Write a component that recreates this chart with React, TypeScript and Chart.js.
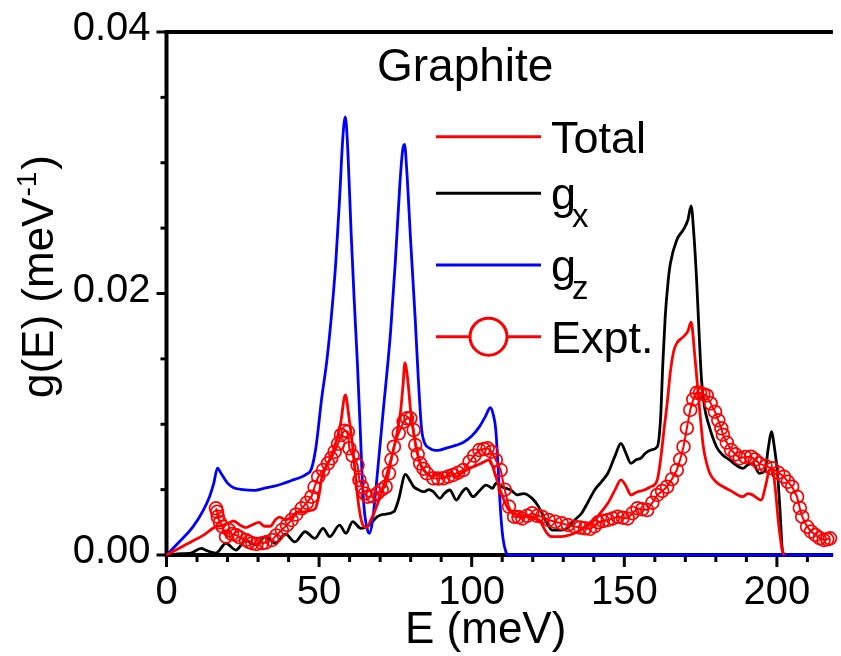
import React, { useEffect, useRef } from 'react';
import { Chart, registerables } from 'chart.js';

Chart.register(...registerables);

const FONT = '"Liberation Sans", Arial, Helvetica, sans-serif';

// ---- data (E in meV, g in meV^-1) ----
const gzE = [0, 4, 8.7, 12, 14.1, 15.5, 16.7, 18, 20, 22, 25, 29, 32, 35, 38, 41, 44, 46, 47.5, 49, 50.8, 52.5, 54, 55.5, 56.7, 57.8, 58.6, 59.4, 60.5, 61.5, 62.6, 63.5, 64.2, 65, 66, 66.5, 67.5, 69, 71, 73.4, 75, 76.5, 77.4, 78, 78.7, 80, 81.5, 82.5, 83.6, 84.7, 86, 88, 89.6, 92, 95, 97.2, 100, 102.5, 104.5, 106.1, 107, 107.9, 108.7, 109.5, 110.3, 111.2, 112, 218.5];
const gzG = [0, 0.00095, 0.00217, 0.0034, 0.00446, 0.0055, 0.00665, 0.0062, 0.0055, 0.00515, 0.005, 0.00495, 0.0051, 0.00525, 0.00545, 0.0057, 0.00595, 0.0062, 0.0066, 0.0083, 0.0119, 0.0148, 0.0182, 0.0225, 0.0272, 0.032, 0.0335, 0.031, 0.0246, 0.0195, 0.0144, 0.0095, 0.0055, 0.003, 0.0018, 0.00166, 0.0026, 0.006, 0.011, 0.017, 0.0225, 0.0285, 0.031, 0.0314, 0.0295, 0.024, 0.018, 0.0135, 0.0096, 0.0085, 0.0082, 0.008, 0.00803, 0.0082, 0.0084, 0.0086, 0.0091, 0.0098, 0.0106, 0.01127, 0.0108, 0.00956, 0.0065, 0.00319, 0.0012, 0.00025, 0, 0];

const totalE = [0, 4, 8, 12, 16.2, 18, 20, 22, 24, 26, 28, 30.3, 32, 34, 35.7, 37, 39, 41, 43, 45, 47, 48.6, 50, 50.7, 52.5, 55.1, 57, 58.6, 59.8, 61, 62.6, 64, 65.5, 67, 69, 72.3, 74.5, 76.6, 77.5, 78.1, 79, 80, 81, 83.1, 85, 87, 89, 91, 93, 95, 97, 99, 101, 103, 105.8, 106.8, 107.9, 110.1, 112.2, 115, 118.7, 122, 124.7, 126.3, 129, 131.6, 134, 137, 140.3, 142.5, 144.6, 147, 148.9, 150.5, 152.2, 154, 156.5, 158.5, 160.8, 162, 163, 164, 165.1, 166.2, 167.2, 169.4, 170.8, 171.9, 173, 174.3, 175.2, 175.9, 177, 178, 180, 182.4, 185, 188.8, 190.5, 192, 194.8, 196.5, 197.5, 198.5, 199.5, 200.5, 201.8, 202.5];
const totalG = [0, 0.0005, 0.001, 0.0015, 0.00217, 0.00225, 0.0024, 0.0026, 0.0023, 0.0021, 0.0023, 0.0025, 0.0022, 0.0022, 0.0027, 0.0029, 0.0027, 0.0029, 0.0033, 0.0033, 0.0034, 0.0035, 0.0046, 0.00574, 0.0068, 0.0083, 0.01, 0.01224, 0.0105, 0.00828, 0.00446, 0.0025, 0.0021, 0.0027, 0.0038, 0.00625, 0.0082, 0.0108, 0.013, 0.0147, 0.0135, 0.011, 0.0093, 0.007, 0.0063, 0.006, 0.0062, 0.0059, 0.0063, 0.006, 0.0063, 0.0066, 0.0068, 0.007, 0.00727, 0.0068, 0.00599, 0.00446, 0.00344, 0.0031, 0.00293, 0.0027, 0.00166, 0.0014, 0.0014, 0.0015, 0.0017, 0.0021, 0.00268, 0.0033, 0.00395, 0.005, 0.00574, 0.0053, 0.00459, 0.0048, 0.00497, 0.0052, 0.00574, 0.0075, 0.00956, 0.0115, 0.014, 0.0156, 0.0162, 0.0167, 0.0171, 0.0178, 0.0155, 0.0121, 0.0098, 0.00828, 0.007, 0.00625, 0.0056, 0.00522, 0.0049, 0.00446, 0.0047, 0.0046, 0.0042, 0.0055, 0.0065, 0.0066, 0.005, 0.0025, 0.0003, 0];

const gxE = [0, 5, 8, 11.4, 13, 16.2, 19.5, 22.7, 26, 29.2, 32.4, 35.7, 39, 42.1, 45.4, 48.6, 51.3, 53.5, 56.7, 58.8, 61, 63.7, 66.4, 69.1, 71, 74.5, 76, 78.3, 79.5, 81, 82.5, 84.2, 86, 87.4, 89.6, 91, 92.8, 95, 96.5, 98.2, 100.4, 102.5, 104.7, 106.9, 107.9, 110, 112.8, 115, 117, 119.8, 121.9, 124.7, 126.3, 129.3, 131.6, 133.8, 136, 138, 140.3, 142.5, 144.6, 147, 148.9, 150.5, 152.2, 154, 155.4, 157, 158.6, 160.8, 161.9, 162.6, 163.4, 164.3, 165.1, 167.2, 169.4, 170.8, 171.9, 172.8, 173.7, 174.5, 175.3, 176.3, 177.5, 180.2, 182, 184.5, 186.5, 188.8, 190.5, 192.1, 194.2, 196, 197.2, 198.2, 199.2, 200.2, 201, 201.8, 202.5];
const gxG = [0, 0.0001, 0.00015, 0.0005, 0.00035, 0.00015, 0.0009, 0.00038, 0.0011, 0.00077, 0.0014, 0.0009, 0.0016, 0.001, 0.00178, 0.00127, 0.00204, 0.0014, 0.00229, 0.00166, 0.00255, 0.00204, 0.00229, 0.00293, 0.0031, 0.00331, 0.0042, 0.00617, 0.0058, 0.00522, 0.005, 0.00484, 0.005, 0.00484, 0.00433, 0.0047, 0.00497, 0.0042, 0.0047, 0.0051, 0.00446, 0.0049, 0.00535, 0.0051, 0.00548, 0.0052, 0.00497, 0.0046, 0.0047, 0.00433, 0.0037, 0.00242, 0.00191, 0.0019, 0.0021, 0.00268, 0.00319, 0.004, 0.00497, 0.0056, 0.00625, 0.0076, 0.00854, 0.0078, 0.00701, 0.0073, 0.0074, 0.0078, 0.00803, 0.00828, 0.0105, 0.0145, 0.0182, 0.0208, 0.0223, 0.0241, 0.0249, 0.0256, 0.0267, 0.0245, 0.021, 0.017, 0.0134, 0.0113, 0.0101, 0.00828, 0.0077, 0.00727, 0.0069, 0.00663, 0.0069, 0.00701, 0.00625, 0.0064, 0.0082, 0.00943, 0.0082, 0.00625, 0.0035, 0.00038, 0];

const exptE = [16.2, 16.6, 16.8, 17.5, 18.4, 19.5, 20.5, 21.5, 22.7, 24, 26, 27, 28.1, 29.5, 31.3, 32.5, 34.6, 36, 37.8, 39.5, 41, 42.5, 44.3, 46, 47.5, 48.5, 49.7, 51.3, 52.9, 54, 55.1, 56.2, 57.2, 58.3, 59.4, 59.9, 61, 62.6, 63.2, 64, 65, 65.9, 67.5, 69.1, 70.5, 71.8, 72.9, 73.7, 74.5, 76.1, 77.7, 78.8, 79.9, 81, 81.5, 82.3, 83.1, 84.2, 85.3, 87.4, 89, 90.7, 92.3, 93.9, 95.5, 97.2, 99.3, 100.8, 102.5, 104, 105.2, 106.5, 107.9, 109.5, 110.8, 112.2, 113.9, 115.3, 116.6, 118.2, 119.8, 121.5, 123, 125.2, 127.3, 129.5, 131.5, 133.8, 135.5, 137.1, 138.7, 140.3, 141.4, 143, 144.6, 146.2, 147.8, 149.5, 151.1, 152.7, 154.3, 155.9, 157.5, 159.2, 160.8, 162.4, 164, 165.6, 167.2, 168.3, 169.4, 170.5, 171.6, 172.6, 173.7, 174.8, 175.9, 177, 178.3, 179.7, 180.8, 181.8, 182.3, 183.6, 185, 186.4, 187.8, 189.6, 191.5, 192.8, 194.2, 196.3, 198.5, 200.4, 202.3, 203.6, 205, 206.6, 207.5, 208.3, 209.9, 211.2, 212.6, 214, 215.3, 216.5, 217.4];
const exptG = [0.00357, 0.0033, 0.00293, 0.0025, 0.00217, 0.0014, 0.0019, 0.0016, 0.00153, 0.00135, 0.00115, 0.001, 0.0009, 0.00085, 0.0009, 0.00095, 0.00115, 0.0015, 0.00191, 0.0023, 0.00268, 0.0031, 0.00357, 0.004, 0.00446, 0.0052, 0.00599, 0.0065, 0.00701, 0.0074, 0.0079, 0.0085, 0.00918, 0.0095, 0.00943, 0.00816, 0.0076, 0.00688, 0.00574, 0.00522, 0.0047, 0.00446, 0.0045, 0.00472, 0.005, 0.00522, 0.00625, 0.0073, 0.00828, 0.00931, 0.0102, 0.01045, 0.01045, 0.00956, 0.00841, 0.0077, 0.00701, 0.0066, 0.00625, 0.00587, 0.00585, 0.00587, 0.006, 0.00612, 0.0063, 0.0065, 0.00714, 0.0076, 0.00803, 0.0081, 0.00816, 0.0079, 0.00727, 0.0065, 0.005, 0.0037, 0.00293, 0.0029, 0.0028, 0.003, 0.00319, 0.003, 0.00293, 0.00268, 0.00255, 0.00242, 0.0023, 0.00217, 0.0021, 0.00204, 0.002, 0.0022, 0.0025, 0.0026, 0.00268, 0.0028, 0.00293, 0.00285, 0.0028, 0.0032, 0.00357, 0.0035, 0.00344, 0.004, 0.00459, 0.0049, 0.00522, 0.0058, 0.0065, 0.0073, 0.00828, 0.0097, 0.0111, 0.0119, 0.0124, 0.0124, 0.0123, 0.0122, 0.0116, 0.01096, 0.0103, 0.00969, 0.0092, 0.0086, 0.00803, 0.0077, 0.0074, 0.0075, 0.00752, 0.0073, 0.00701, 0.0068, 0.00663, 0.0063, 0.00599, 0.0056, 0.00522, 0.00446, 0.0036, 0.00293, 0.00217, 0.0018, 0.00153, 0.0013, 0.00115, 0.0012, 0.00128];

// ---- ticks ----
const xMajorTicks = [0, 50, 100, 150, 200];
const xMinorTicks = [10, 20, 30, 40, 60, 70, 80, 90, 110, 120, 130, 140, 160, 170, 180, 190, 210];
const yMajorTicks = [0, 0.02, 0.04];
const yMinorTicks = [0.005, 0.01, 0.015, 0.025, 0.03, 0.035];

const legendLabels = ['Total', 'g', 'g', 'Expt.'];
const legendSubs = ['', 'x', 'z', ''];
const legendColors = ['#ff0000', '#000000', '#0000ff', '#ff0000'];

const toPts = (xs: number[], ys: number[]) => xs.map((x, i) => ({ x, y: ys[i] }));

const decor = {
  id: 'decor',
  beforeDatasetsDraw(chart: any) {
    const { ctx, chartArea, scales } = chart;
    const x = scales.x;
    const y = scales.y;
    ctx.save();
    ctx.strokeStyle = '#000';
    ctx.lineCap = 'butt';
    ctx.lineWidth = 3;
    const b = chartArea.bottom;
    const l = chartArea.left;
    xMajorTicks.forEach((v) => {
      const px = x.getPixelForValue(v);
      ctx.beginPath(); ctx.moveTo(px, b); ctx.lineTo(px, b + 12); ctx.stroke();
    });
    xMinorTicks.forEach((v) => {
      const px = x.getPixelForValue(v);
      ctx.beginPath(); ctx.moveTo(px, b); ctx.lineTo(px, b + 7); ctx.stroke();
    });
    yMajorTicks.forEach((v) => {
      const py = y.getPixelForValue(v);
      ctx.beginPath(); ctx.moveTo(l, py); ctx.lineTo(l - 10, py); ctx.stroke();
    });
    yMinorTicks.forEach((v) => {
      const py = y.getPixelForValue(v);
      ctx.beginPath(); ctx.moveTo(l, py); ctx.lineTo(l - 6, py); ctx.stroke();
    });
    ctx.lineWidth = 4;
    ctx.beginPath();
    ctx.moveTo(l, chartArea.top - 2); ctx.lineTo(l, b + 2);
    ctx.moveTo(l - 2, b); ctx.lineTo(chartArea.right, b);
    ctx.moveTo(l - 2, chartArea.top); ctx.lineTo(chartArea.right, chartArea.top);
    ctx.stroke();
    ctx.restore();
  },
  afterDraw(chart: any) {
    const { ctx } = chart;
    ctx.save();
    ctx.fillStyle = '#000';
    ctx.textBaseline = 'alphabetic';
    ctx.textAlign = 'left';
    // panel label
    ctx.font = `46px ${FONT}`;
    ctx.fillText('Graphite', 377, 81);
    // x title
    ctx.font = `44px ${FONT}`;
    ctx.fillText('E (meV)', 405, 643);
    // y title
    ctx.save();
    ctx.translate(53, 398);
    ctx.rotate(-Math.PI / 2);
    ctx.font = `44px ${FONT}`;
    const main = 'g(E) (meV';
    ctx.fillText(main, 0, 0);
    const w1 = ctx.measureText(main).width;
    ctx.font = `28px ${FONT}`;
    ctx.fillText('-1', w1 + 1, -17);
    const w2 = ctx.measureText('-1').width;
    ctx.font = `44px ${FONT}`;
    ctx.fillText(')', w1 + w2 + 3, 0);
    ctx.restore();
    // legend
    const rowsY = [136.7, 193.3, 265, 336.7];
    rowsY.forEach((ly, i) => {
      ctx.strokeStyle = legendColors[i];
      ctx.lineWidth = 3;
      ctx.beginPath(); ctx.moveTo(436, ly); ctx.lineTo(541, ly); ctx.stroke();
      if (i === 3) {
        ctx.fillStyle = '#fff';
        ctx.beginPath(); ctx.arc(488.5, ly, 18.5, 0, Math.PI * 2); ctx.fill(); ctx.stroke();
      }
      ctx.fillStyle = '#000';
      ctx.font = `45px ${FONT}`;
      ctx.fillText(legendLabels[i], 551, ly + 16);
      if (legendSubs[i]) {
        const gw = ctx.measureText(legendLabels[i]).width;
        ctx.font = `33px ${FONT}`;
        ctx.fillText(legendSubs[i], 551 + gw - 4, ly + 34);
      }
    });
    ctx.restore();
  },
};

export default function App() {
  const ref = useRef<HTMLCanvasElement | null>(null);
  useEffect(() => {
    if (!ref.current) return;
    const chart = new Chart(ref.current, {
      type: 'line',
      data: {
        datasets: [
          {
            label: 'Expt.', data: toPts(exptE, exptG), borderColor: '#ff0000', borderWidth: 2,
            pointRadius: 6.4, pointBorderWidth: 1.7, pointBorderColor: '#ff0000',
            pointBackgroundColor: 'rgba(255,255,255,0)', tension: 0, order: 0, clip: false,
          } as any,
          {
            label: 'Total', data: toPts(totalE, totalG), borderColor: '#ff0000', borderWidth: 2.8,
            pointRadius: 0, cubicInterpolationMode: 'monotone', order: 1, clip: false,
          } as any,
          {
            label: 'gz', data: toPts(gzE, gzG), borderColor: '#0000ff', borderWidth: 2.8,
            pointRadius: 0, cubicInterpolationMode: 'monotone', order: 2, clip: false,
          } as any,
          {
            label: 'gx', data: toPts(gxE, gxG), borderColor: '#000000', borderWidth: 2.8,
            pointRadius: 0, cubicInterpolationMode: 'monotone', order: 3, clip: false,
          } as any,
        ],
      },
      options: {
        animation: false,
        responsive: false,
        devicePixelRatio: 1,
        layout: { padding: { top: 32, left: 0, right: 0, bottom: 0 } },
        plugins: { legend: { display: false }, tooltip: { enabled: false }, title: { display: false } },
        scales: {
          x: {
            type: 'linear', min: 0, max: 218.35,
            grid: { display: false, drawTicks: false }, border: { display: false },
            afterFit: (s: any) => { s.height = 101; s.paddingLeft = 0; s.paddingRight = 0; },
            ticks: {
              stepSize: 50, includeBounds: false, padding: 14, color: '#000',
              font: { family: FONT, size: 40 }, maxRotation: 0, autoSkip: false,
              callback: (v: any) => String(v),
            },
          },
          y: {
            type: 'linear', min: 0, max: 0.04,
            grid: { display: false, drawTicks: false }, border: { display: false },
            afterFit: (s: any) => { s.width = 166.5; s.paddingTop = 0; s.paddingBottom = 0; },
            ticks: {
              stepSize: 0.02, padding: 16, color: '#000', labelOffset: -3,
              font: { family: FONT, size: 40 },
              callback: (v: any) => Number(v).toFixed(2),
            },
          },
        },
      } as any,
      plugins: [decor],
    });
    return () => chart.destroy();
  }, []);
  return (
    <div style={{ position: 'absolute', left: 0, top: 0, width: 841, height: 656, background: '#fff' }}>
      <canvas ref={ref} width={841} height={656} style={{ display: 'block' }} />
    </div>
  );
}
